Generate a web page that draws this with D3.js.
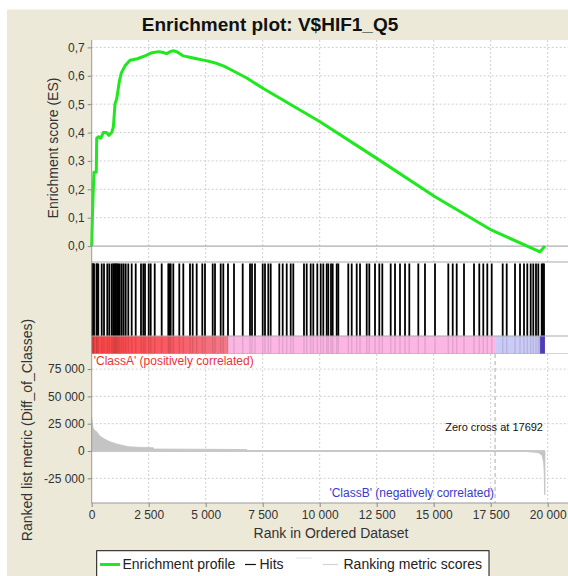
<!DOCTYPE html>
<html>
<head>
<meta charset="utf-8">
<script src="https://cdn.jsdelivr.net/npm/d3@7"></script>
<style>
  html, body { margin: 0; padding: 0; background: #fff; }
  svg { display: block; font-family: "Liberation Sans", Arial, sans-serif; }
</style>
</head>
<body>
<svg id="chart" width="568" height="576"></svg>
<script>
// ---- data ----
const geneSetName = "V$HIF1_Q5";
const listSize = 19880;
const zeroCross = 17692;

// running enrichment score: [rank, ES]
const esRanks  = [0, 30, 70, 100, 200, 220, 300, 400, 510, 650, 750, 877, 950, 1022, 1100, 1212, 1300, 1461, 1680, 2000, 2338, 2600, 2922, 3100, 3290, 3450, 3580, 3750, 4018, 4300, 4605, 4900, 5190, 5500, 5800, 6066, 6800, 7527, 10013, 12500, 15058, 17544, 19663, 19880];
const esValues = [0, 0.10, 0.20, 0.26, 0.26, 0.38, 0.385, 0.38, 0.40, 0.40, 0.39, 0.40, 0.42, 0.50, 0.52, 0.58, 0.61, 0.635, 0.655, 0.66, 0.67, 0.68, 0.685, 0.683, 0.678, 0.685, 0.688, 0.684, 0.67, 0.665, 0.66, 0.655, 0.65, 0.643, 0.634, 0.623, 0.592, 0.555, 0.438, 0.309, 0.174, 0.056, -0.02, 0.0];

// positions of gene-set members in the ranked list
const hitRanks = [15, 44, 70, 101, 210, 230, 289, 439, 540, 684, 772, 877, 940, 990, 1040, 1066, 1120, 1167, 1230, 1316, 1400, 1491, 1605, 1754, 1930, 2162, 2263, 2338, 2501, 2588, 2764, 3070, 3360, 3410, 3465, 3579, 3842, 4018, 4311, 4430, 4605, 4851, 4969, 5307, 5408, 5658, 5772, 5978, 6241, 6623, 6943, 7031, 7162, 7500, 7601, 7746, 7851, 8228, 8377, 8553, 8728, 8842, 9311, 9430, 9605, 9719, 9895, 10044, 10158, 10307, 10377, 10496, 10570, 10746, 10816, 11254, 11404, 11623, 11768, 12062, 12176, 12426, 12614, 12746, 13114, 13303, 13522, 13742, 13930, 14325, 14618, 15057, 15641, 15834, 16009, 16329, 16768, 17000, 17175, 17351, 17544, 18026, 18202, 18566, 18785, 18961, 19105, 19254, 19368, 19487, 19588, 19737, 19790, 19838];

// ranked list metric (Diff_of_Classes): [rank, value]
const metricRanks  = [0, 20, 60, 120, 219, 350, 500, 800, 1100, 1600, 2000, 2700, 2710, 4000, 5500, 6800, 6810, 10000, 15000, 17692, 19000, 19600, 19750, 19820, 19850, 19866, 19880];
const metricValues = [31000, 26000, 21500, 19000, 17700, 14000, 11600, 8500, 6400, 4000, 3500, 3000, 1800, 1700, 1500, 1300, 200, 150, 80, 0, -300, -1500, -4000, -10000, -20000, -40000, -40000];

// heat-map band edges along the ranked list
const bandEdges = [0, 5990, zeroCross, 19650, listSize];

// axis ticks
const rankTicks   = [0, 2500, 5000, 7500, 10000, 12500, 15000, 17500, 20000];
const esTicks     = [0, 0.1, 0.2, 0.3, 0.4, 0.5, 0.6, 0.7];
const metricTicks = [-25000, 0, 25000, 50000, 75000];

const titleText   = "Enrichment plot: " + geneSetName;
const classALabel = "'ClassA' (positively correlated)";
const classBLabel = "'ClassB' (negatively correlated)";
const legendItems = ["Enrichment profile", "Hits", "Ranking metric scores"];

// ---- layout ----
const svg = d3.select("#chart");
const left = 91.7, plotRight = 572;
const esTop = 40, esBottom = 262;
const hitTop = 262, hitBottom = 336, barBottom = 354;
const mTop = 354, mBottom = 503;

const x = d3.scaleLinear().domain([0, 20000]).range([left, 547.7]);
const yES = d3.scaleLinear().domain([-0.056, 0.726]).range([esBottom, esTop]);
const yM = d3.scaleLinear().domain([-47600, 88800]).range([mBottom, mTop]);

const grid = "#cfcfcf";
const spaceFmt = d => d3.format(",")(d).replace(/,/g, " ").replace("\u2212", "-");

// background panel
svg.append("rect").attr("x", 7).attr("y", 9.5).attr("width", 568).attr("height", 576).attr("fill", "#ece9d8");

// title
svg.append("text").attr("x", 270).attr("y", 30.5).attr("text-anchor", "middle")
  .attr("font-size", 19).attr("font-weight", "bold").attr("fill", "#111").text(titleText);

// ---- ES panel ----
svg.append("rect").attr("x", left).attr("y", esTop).attr("width", plotRight - left).attr("height", esBottom - esTop).attr("fill", "#fff");
const esG = svg.append("g");
esG.selectAll("line.hg").data(esTicks.filter(d => d !== 0)).join("line")
  .attr("x1", left).attr("x2", plotRight).attr("y1", d => yES(d)).attr("y2", d => yES(d))
  .attr("stroke", grid).attr("stroke-dasharray", "2,2");
esG.selectAll("line.vg").data(rankTicks.filter(d => d !== 0)).join("line")
  .attr("x1", d => x(d)).attr("x2", d => x(d)).attr("y1", esTop).attr("y2", esBottom)
  .attr("stroke", grid).attr("stroke-dasharray", "2,2");
esG.append("line").attr("x1", left).attr("x2", plotRight).attr("y1", yES(0)).attr("y2", yES(0)).attr("stroke", "#999").attr("stroke-width", 1);

const esData = esRanks.map((r, i) => [r, esValues[i]]);
esG.append("path").datum(esData)
  .attr("d", d3.line().x(d => x(d[0])).y(d => yES(d[1])))
  .attr("fill", "none").attr("stroke", "#1fe81f").attr("stroke-width", 3).attr("stroke-linejoin", "round");

const esAxis = svg.append("g").attr("transform", `translate(${left},0)`)
  .call(d3.axisLeft(yES).tickValues(esTicks).tickSize(4).tickPadding(3)
    .tickFormat(d => d3.format(".1f")(d).replace(".", ",")));
esAxis.select(".domain").remove();
esAxis.selectAll("line").attr("stroke", "#888");
esAxis.selectAll("text").attr("font-size", 12).attr("fill", "#333").attr("font-family", "Liberation Sans, Arial, sans-serif");
svg.append("line").attr("x1", left).attr("x2", left).attr("y1", esTop).attr("y2", esBottom).attr("stroke", "#999");

svg.append("text").attr("transform", `translate(58,148) rotate(-90)`).attr("text-anchor", "middle")
  .attr("font-size", 14).attr("fill", "#333").text("Enrichment score (ES)");

// ---- hits + heat bar panel ----
svg.append("rect").attr("x", left).attr("y", hitTop).attr("width", plotRight - left).attr("height", barBottom - hitTop).attr("fill", "#fff");

const redGrad = svg.append("defs").append("linearGradient").attr("id", "redBand");
redGrad.append("stop").attr("offset", "0%").attr("stop-color", "#ff4646");
redGrad.append("stop").attr("offset", "60%").attr("stop-color", "#fa5c66");
redGrad.append("stop").attr("offset", "100%").attr("stop-color", "#f57a8a");
const bandFills = ["url(#redBand)", "#fcb6e4", "#cbcbf7", "#5a48c8"];
const bands = bandEdges.slice(0, -1).map((s, i) => ({ s, e: bandEdges[i + 1], fill: bandFills[i] }));
svg.selectAll("rect.band").data(bands).join("rect")
  .attr("x", d => x(d.s)).attr("width", d => x(d.e) - x(d.s))
  .attr("y", hitBottom).attr("height", barBottom - hitBottom).attr("fill", d => d.fill);

svg.selectAll("line.hit").data(hitRanks).join("line")
  .attr("x1", d => x(d)).attr("x2", d => x(d)).attr("y1", hitTop + 1.5).attr("y2", hitBottom)
  .attr("stroke", "#000").attr("stroke-width", 1.8);
svg.selectAll("line.stripe").data(hitRanks).join("line")
  .attr("x1", d => x(d)).attr("x2", d => x(d)).attr("y1", hitBottom).attr("y2", barBottom)
  .attr("stroke", "#000").attr("stroke-opacity", 0.1).attr("stroke-width", 1.5);

[hitTop, hitBottom, barBottom].forEach(yy =>
  svg.append("line").attr("x1", left).attr("x2", plotRight).attr("y1", yy).attr("y2", yy).attr("stroke", "#aaa"));
svg.append("line").attr("x1", left).attr("x2", left).attr("y1", hitTop).attr("y2", barBottom).attr("stroke", "#999");

// ---- ranked metric panel ----
svg.append("rect").attr("x", left).attr("y", mTop).attr("width", plotRight - left).attr("height", mBottom - mTop).attr("fill", "#fff");
const mG = svg.append("g");
mG.selectAll("line.hg").data(metricTicks.filter(d => d !== 0)).join("line")
  .attr("x1", left).attr("x2", plotRight).attr("y1", d => yM(d)).attr("y2", d => yM(d))
  .attr("stroke", grid).attr("stroke-dasharray", "2,2");
mG.selectAll("line.vg").data(rankTicks.filter(d => d !== 0)).join("line")
  .attr("x1", d => x(d)).attr("x2", d => x(d)).attr("y1", mTop).attr("y2", mBottom)
  .attr("stroke", grid).attr("stroke-dasharray", "2,2");

const mData = metricRanks.map((r, i) => [r, metricValues[i]]);
mG.append("path").datum(mData)
  .attr("d", d3.area().x(d => x(d[0])).y0(yM(0)).y1(d => yM(d[1])))
  .attr("fill", "#c4c4c4").attr("stroke", "#c4c4c4").attr("stroke-width", 0.8);
mG.append("line").attr("x1", x(0)).attr("x2", x(listSize)).attr("y1", yM(0)).attr("y2", yM(0))
  .attr("stroke", "#c8c8c8").attr("stroke-width", 2);

// zero-cross marker
mG.append("line").attr("x1", x(zeroCross)).attr("x2", x(zeroCross)).attr("y1", mTop).attr("y2", mBottom)
  .attr("stroke", "#aaa").attr("stroke-dasharray", "4,3");
mG.append("text").attr("x", 543).attr("y", yM(25000) + 7).attr("text-anchor", "end")
  .attr("font-size", 11).attr("fill", "#111").text("Zero cross at " + zeroCross);

mG.append("text").attr("x", left + 2).attr("y", mTop + 10.5).attr("font-size", 12)
  .attr("fill", "#ee3333").text(classALabel);
mG.append("text").attr("x", x(zeroCross) - 1).attr("y", 497).attr("text-anchor", "end").attr("font-size", 12)
  .attr("fill", "#3a3acc").text(classBLabel);

const mAxis = svg.append("g").attr("transform", `translate(${left},0)`)
  .call(d3.axisLeft(yM).tickValues(metricTicks).tickSize(4).tickPadding(3).tickFormat(spaceFmt));
mAxis.select(".domain").remove();
mAxis.selectAll("line").attr("stroke", "#888");
mAxis.selectAll("text").attr("font-size", 12).attr("fill", "#333").attr("font-family", "Liberation Sans, Arial, sans-serif");
svg.append("line").attr("x1", left).attr("x2", left).attr("y1", mTop).attr("y2", mBottom).attr("stroke", "#999");
svg.append("line").attr("x1", left).attr("x2", plotRight).attr("y1", mBottom).attr("y2", mBottom).attr("stroke", "#999");

const xAxis = svg.append("g").attr("transform", `translate(0,${mBottom})`)
  .call(d3.axisBottom(x).tickValues(rankTicks).tickSize(4).tickPadding(3).tickFormat(spaceFmt));
xAxis.select(".domain").remove();
xAxis.selectAll("line").attr("stroke", "#888");
xAxis.selectAll("text").attr("font-size", 12).attr("fill", "#333").attr("font-family", "Liberation Sans, Arial, sans-serif");

svg.append("text").attr("x", 331).attr("y", 538).attr("text-anchor", "middle")
  .attr("font-size", 14).attr("fill", "#333").text("Rank in Ordered Dataset");
svg.append("text").attr("transform", `translate(32,430) rotate(-90)`).attr("text-anchor", "middle")
  .attr("font-size", 14).attr("fill", "#333").text("Ranked list metric (Diff_of_Classes)");

// ---- legend ----
const lg = svg.append("g");
lg.append("rect").attr("x", 96.7).attr("y", 550.7).attr("width", 392.3).attr("height", 32)
  .attr("fill", "#fff").attr("stroke", "#111");
const ly = 564.5;
lg.append("line").attr("x1", 100).attr("x2", 120).attr("y1", ly).attr("y2", ly).attr("stroke", "#1fe81f").attr("stroke-width", 3);
lg.append("text").attr("x", 122.5).attr("y", 569).attr("font-size", 14).attr("fill", "#222").text(legendItems[0]);
lg.append("line").attr("x1", 245).attr("x2", 256).attr("y1", ly).attr("y2", ly).attr("stroke", "#111").attr("stroke-width", 1.2);
lg.append("text").attr("x", 259.5).attr("y", 569).attr("font-size", 14).attr("fill", "#222").text(legendItems[1]);
lg.append("line").attr("x1", 296).attr("x2", 312).attr("y1", 558).attr("y2", 558).attr("stroke", "#e4e4e4").attr("stroke-width", 1);
lg.append("line").attr("x1", 323).attr("x2", 338).attr("y1", ly).attr("y2", ly).attr("stroke", "#d4d4d4").attr("stroke-width", 1.2);
lg.append("text").attr("x", 343.5).attr("y", 569).attr("font-size", 14).attr("fill", "#222").text(legendItems[2]);
</script>
</body>
</html>
